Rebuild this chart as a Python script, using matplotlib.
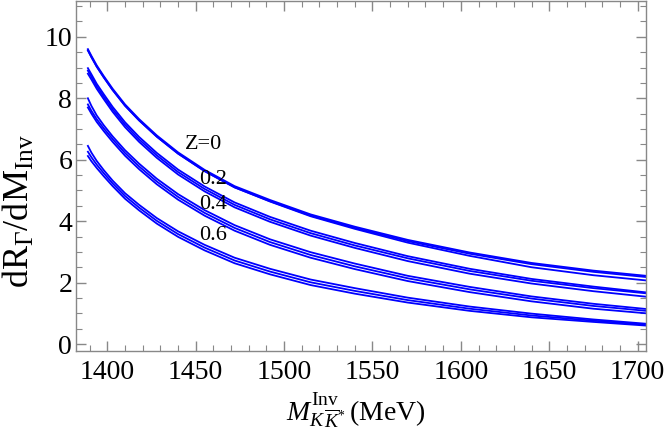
import matplotlib
matplotlib.use("Agg")
import matplotlib.pyplot as plt
from matplotlib.ticker import MultipleLocator

plt.rcParams['font.family'] = ['Liberation Serif', 'DejaVu Serif']
plt.rcParams['mathtext.fontset'] = 'custom'
plt.rcParams['mathtext.rm'] = 'Liberation Serif'
plt.rcParams['mathtext.it'] = 'Liberation Serif:italic'

# invariant mass grid (MeV)
m_inv = [1389, 1391, 1394, 1398, 1403, 1410, 1418, 1428, 1440, 1455,
         1472, 1492, 1515, 1540, 1570, 1605, 1640, 1675, 1705]

# Z = 0 group
z0_a = [9.60, 9.38, 9.07, 8.72, 8.31, 7.80, 7.32, 6.79, 6.24, 5.67, 5.14, 4.69, 4.22, 3.82, 3.39, 2.98, 2.64, 2.39, 2.22]
z0_b = [9.56, 9.34, 9.03, 8.68, 8.27, 7.76, 7.28, 6.75, 6.20, 5.63, 5.10, 4.65, 4.18, 3.78, 3.35, 2.94, 2.60, 2.35, 2.18]
z0_c = [9.56, 9.34, 9.03, 8.68, 8.27, 7.76, 7.28, 6.75, 6.20, 5.63, 5.10, 4.64, 4.16, 3.75, 3.30, 2.87, 2.50, 2.24, 2.07]

# Z = 0.2 group
z2_a = [8.98, 8.78, 8.47, 8.13, 7.72, 7.22, 6.74, 6.22, 5.68, 5.13, 4.61, 4.14, 3.69, 3.29, 2.86, 2.45, 2.12, 1.87, 1.68]
z2_b = [8.90, 8.70, 8.39, 8.05, 7.64, 7.14, 6.66, 6.14, 5.60, 5.05, 4.53, 4.06, 3.61, 3.21, 2.79, 2.38, 2.06, 1.82, 1.65]
z2_c = [8.80, 8.61, 8.31, 7.97, 7.56, 7.06, 6.58, 6.06, 5.52, 4.97, 4.45, 3.98, 3.53, 3.13, 2.70, 2.29, 1.97, 1.72, 1.54]

# Z = 0.4 group
z4_a = [8.00, 7.75, 7.44, 7.12, 6.76, 6.31, 5.87, 5.38, 4.88, 4.36, 3.87, 3.41, 2.99, 2.62, 2.22, 1.86, 1.55, 1.31, 1.14]
z4_b = [7.80, 7.59, 7.32, 7.02, 6.67, 6.22, 5.78, 5.29, 4.79, 4.27, 3.78, 3.32, 2.90, 2.53, 2.14, 1.78, 1.48, 1.24, 1.08]
z4_c = [7.70, 7.50, 7.23, 6.93, 6.58, 6.13, 5.69, 5.20, 4.70, 4.18, 3.69, 3.23, 2.81, 2.44, 2.05, 1.69, 1.39, 1.15, 1.00]

# Z = 0.6 group
z6_a = [6.45, 6.23, 5.96, 5.66, 5.32, 4.91, 4.53, 4.10, 3.67, 3.23, 2.81, 2.45, 2.10, 1.82, 1.51, 1.22, 0.99, 0.80, 0.66]
z6_b = [6.26, 6.08, 5.84, 5.56, 5.23, 4.82, 4.44, 4.01, 3.58, 3.14, 2.72, 2.36, 2.01, 1.73, 1.43, 1.15, 0.93, 0.76, 0.63]
z6_c = [6.12, 5.95, 5.73, 5.46, 5.14, 4.73, 4.35, 3.92, 3.49, 3.05, 2.63, 2.27, 1.92, 1.64, 1.35, 1.08, 0.87, 0.72, 0.60]

series = [z0_a, z0_b, z0_c, z2_a, z2_b, z2_c, z4_a, z4_b, z4_c, z6_a, z6_b, z6_c]

labels = ["Z=0", "0.2", "0.4", "0.6"]
label_x = [1444, 1452, 1452, 1452]
label_y = [6.48, 5.34, 4.54, 3.53]

fig = plt.figure(figsize=(6.64, 4.45), dpi=100)
ax = fig.add_axes([0.114, 0.211, 0.859, 0.787])

for s in series:
    ax.plot(m_inv, s, color=(0, 0, 1), lw=1.3, solid_joinstyle='round')

for t, x, y in zip(labels, label_x, label_y):
    ax.text(x, y, t, fontsize=16, ha='left', va='center', color='black')

ax.set_xlim(1382.1, 1704.8)
ax.set_ylim(-0.23, 11.17)

ax.xaxis.set_major_locator(MultipleLocator(50))
ax.xaxis.set_minor_locator(MultipleLocator(10))
ax.yaxis.set_major_locator(MultipleLocator(2))
ax.yaxis.set_minor_locator(MultipleLocator(0.5))

gray = '#888888'
for sp in ax.spines.values():
    sp.set_color(gray)
    sp.set_linewidth(1.0)
ax.tick_params(which='both', direction='in', top=True, right=True, color=gray,
               labelsize=20, labelcolor='black')
ax.tick_params(which='major', length=7, width=1.0)
ax.tick_params(which='minor', length=4, width=0.8)
ax.tick_params(axis='x', which='major', pad=6.5)
ax.tick_params(axis='y', which='major', pad=2.5)

fig.text(0.029, 0.526, r'$\mathrm{dR}_{\Gamma}/\mathrm{dM}_{\mathrm{Inv}}$',
         fontsize=26, rotation=90, ha='center', va='center')
fig.text(0.535, 0.075, r'$M_{K\,\overline{K}^{*}}^{\mathrm{Inv}}\,\mathrm{(MeV)}$',
         fontsize=20, ha='center', va='center')

fig.savefig('out.png', dpi=100)
